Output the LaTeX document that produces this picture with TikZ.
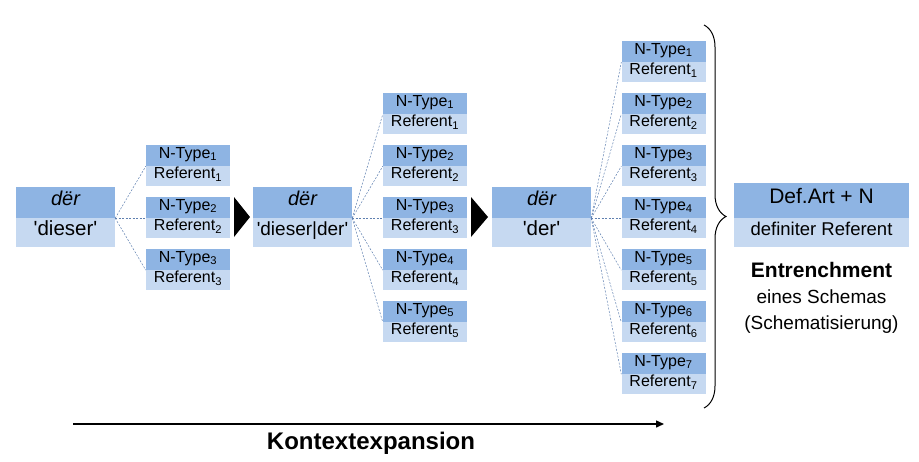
\documentclass[tikz,border=0pt]{standalone}
\usepackage{fontspec}
\setmainfont{Liberation Sans}
\usetikzlibrary{positioning, arrows.meta, decorations.pathreplacing}
\definecolor{typeblue}{RGB}{142, 180, 227}
\definecolor{refblue}{RGB}{198, 217, 241}
\definecolor{linkblue}{RGB}{95, 128, 176}
\newcommand{\fs}[1]{\fontsize{#1}{#1}\selectfont}
\newcommand{\sq}{\textquotesingle}

\begin{document}
\begin{tikzpicture}[x=1pt, y=-1pt,
  ntype/.style={fill=typeblue, minimum width=84pt, minimum height=21pt, inner sep=0pt,
    text height=.72em, text depth=.22em, font=\fs{16}},
  nref/.style={fill=refblue, minimum width=84pt, minimum height=20pt, inner sep=0pt,
    text height=.72em, text depth=.22em, font=\fs{16}},
  headbox/.style={fill=typeblue, minimum width=99pt, minimum height=31pt, inner sep=0pt,
    text height=.72em, text depth=.22em, font=\fs{20}},
  sensebox/.style={fill=refblue, minimum width=99pt, minimum height=29pt, inner sep=0pt,
    text height=.72em, text depth=.22em, font=\fs{20.5}},
  link/.style={draw=linkblue, line width=0.5pt, dash pattern=on 2pt off 1.5pt},
  step arrow/.style={fill=black}]
  \useasboundingbox (0,0) rectangle (919,461);

  % stage 1
  \node[headbox] (d1) at (65.5,202.5) {\itshape dër};
  \node[sensebox, below=0pt of d1] (s1) {\sq dieser\sq};
  \foreach \i in {1,...,3} {
    \node[ntype] (a\i) at (188,{145+52*(\i-1)+10.5}) {N-Type\textsubscript{\i}};
    \node[nref, below=0pt of a\i] (ar\i) {Referent\textsubscript{\i}};
    \draw[link] (d1.south east) -- (a\i.south west);
  }
  \fill[step arrow] (234,197) -- (250,217) -- (234,237) -- cycle;

  % stage 2
  \node[headbox] (d2) at (302.5,202.5) {\itshape dër};
  \node[sensebox, below=0pt of d2, font=\fs{19}] (s2) {\sq dieser|der\sq};
  \foreach \i in {1,...,5} {
    \node[ntype] (b\i) at (425,{93+52*(\i-1)+10.5}) {N-Type\textsubscript{\i}};
    \node[nref, below=0pt of b\i] (br\i) {Referent\textsubscript{\i}};
    \draw[link] (d2.south east) -- (b\i.south west);
  }
  \fill[step arrow] (471,197) -- (488,217) -- (471,237) -- cycle;

  % stage 3
  \node[headbox] (d3) at (541.5,202.5) {\itshape dër};
  \node[sensebox, below=0pt of d3] (s3) {\sq der\sq};
  \foreach \i in {1,...,7} {
    \node[ntype] (c\i) at (663.5,{41+52*(\i-1)+10.5}) {N-Type\textsubscript{\i}};
    \node[nref, below=0pt of c\i] (cr\i) {Referent\textsubscript{\i}};
    \draw[link] (d3.south east) -- (c\i.south west);
  }

  % schema
  \draw[line width=1pt, decorate, decoration={brace, amplitude=22pt}] (704,25) -- (704,408);
  \node[fill=typeblue, minimum width=175pt, minimum height=35pt, inner sep=0pt,
    text height=.72em, text depth=.22em, font=\fs{21}] (schema) at (821.5,200.5) {Def.Art + N};
  \node[fill=refblue, minimum width=175pt, minimum height=29pt, inner sep=0pt,
    text height=.72em, text depth=.22em, font=\fs{18.5}, below=0pt of schema] (schemaref) {definiter Referent};
  \node[below=14pt of schemaref, align=center, inner sep=0pt, font=\fontsize{19}{26}\selectfont] (entr)
    {{\fontsize{21}{26}\selectfont\bfseries Entrenchment}\\eines Schemas\\(Schematisierung)};

  % Kontextexpansion
  \coordinate (kstart) at (73,424);
  \coordinate (kend) at (664,424);
  \draw[line width=1.5pt, -{Triangle[length=8pt, width=7pt]}] (kstart) -- (kend);
  \node[font=\bfseries\fs{24}] (kontext) at (371,443) {Kontextexpansion};
\end{tikzpicture}
\end{document}
